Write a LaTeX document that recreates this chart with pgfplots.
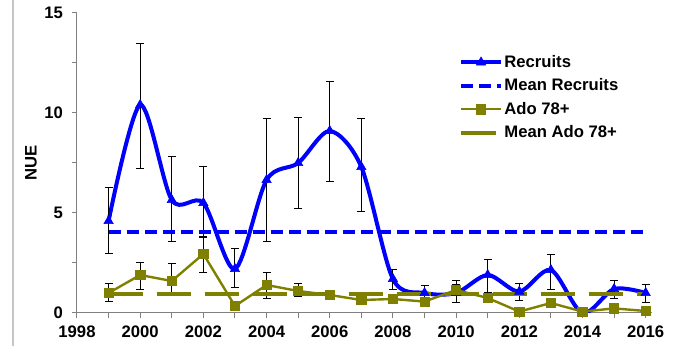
\documentclass[border=0pt]{standalone}
\usepackage{pgfplots}
\usepackage{pgfplotstable}
\pgfplotsset{compat=1.18}
\usepackage{fontspec}
\setmainfont{Liberation Sans}
\definecolor{olivec}{RGB}{128,128,0}
\definecolor{axgray}{RGB}{128,128,128}

\pgfplotstableread{
x y ep em
1999 4.6 1.7 1.6
2000 10.4 3.1 3.15
2001 5.65 2.2 2.05
2002 5.5 1.85 1.7
2003 2.2 1.05 0.9
2004 6.65 3.1 3.05
2005 7.5 2.3 2.25
2006 9.1 2.5 2.5
2007 7.3 2.45 2.2
2008 1.7 0.5 0.5
2009 1.0 0.4 0.3
2010 1.0 0.65 0.45
2011 1.9 0.8 0.85
2012 1.07 0.43 0.42
2013 2.15 0.8 0.95
2014 0.0 0.0 0.0
2015 1.2 0.45 0.45
2016 1.0 0.45 0.45
}\recruits

\pgfplotstableread{
x y ep em
1999 1.0 0.5 0.4
2000 1.9 0.65 0.7
2001 1.6 0.9 0.6
2002 2.95 0.9 0.9
2003 0.35 0.1 0.1
2004 1.4 0.65 0.65
2005 1.1 0.4 0.25
2006 0.9 0.15 0.15
2007 0.65 0.1 0.1
2008 0.7 0.1 0.1
2009 0.57 0.1 0.1
2010 1.15 0.3 0.6
2011 0.75 0.1 0.1
2012 0.07 0.05 0.05
2013 0.5 0.1 0.1
2014 0.07 0.05 0.05
2015 0.23 0.05 0.05
2016 0.1 0.05 0.05
}\ado

\begin{document}
\begin{tikzpicture}
\begin{axis}[
 at={(0,0)}, anchor=south west,
 scale only axis, width=431.25pt, height=225pt,
 xmin=1998, xmax=2016.2, ymin=0, ymax=15,
 axis x line*=bottom, axis y line*=left,
 axis line style={axgray, line width=0.75pt, -},
 xtick={1998,2000,...,2016}, minor xtick={1999,2001,...,2015},
 ytick={0,5,10,15}, minor ytick={2.5,7.5,12.5},
 tick align=outside, major tick length=4pt, minor tick length=4pt,
 tick style={axgray, line width=0.75pt},
 /pgf/number format/assume math mode=true,
 /pgf/number format/1000 sep={},
 ticklabel style={font=\fontsize{12.5}{15}\selectfont\bfseries},
 xticklabel style={yshift=-2pt},
 yticklabel style={xshift=-3pt},
 ylabel={NUE},
 every axis y label/.style={at={(axis description cs:-0.08,0.5)}, anchor=center, rotate=90,
   font=\fontsize{12.5}{15}\selectfont\bfseries},
 legend style={draw=none, fill=none, at={(axis description cs:0.657,0.873)}, anchor=north west,
   font=\fontsize{12.5}{15}\selectfont\bfseries, row sep=5pt, nodes={inner sep=1pt}},
 legend cell align=left,
 legend image code/.code={\draw[mark repeat=2,mark phase=2,#1] plot coordinates {(0pt,0pt)(15pt,0pt)(30pt,0pt)};},
]
\addplot[blue, line width=3pt, smooth, mark=triangle*, mark size=4pt, mark options={solid, line width=0.5pt},
  error bars/.cd, y dir=both, y explicit,
  error bar style={black, line width=0.7pt, solid},
  error mark options={black, rotate=90, mark size=3pt, line width=0.7pt}]
  table[x=x, y=y, y error plus=ep, y error minus=em]{\recruits};
\addlegendentry{Recruits}
\addplot[blue, line width=3pt, dash pattern=on 9pt off 4.5pt] coordinates {(1999,4.05) (2016,4.05)};
\addlegendentry{Mean Recruits}
\addplot[olivec, line width=1.8pt, mark=square*, mark size=3.5pt, mark options={solid, line width=0.5pt},
  error bars/.cd, y dir=both, y explicit,
  error bar style={black, line width=0.7pt, solid},
  error mark options={black, rotate=90, mark size=3pt, line width=0.7pt}]
  table[x=x, y=y, y error plus=ep, y error minus=em]{\ado};
\addlegendentry{Ado 78+}
\addplot[olivec, line width=3pt, dash pattern=on 26pt off 10pt] coordinates {(1999,0.95) (2016,0.95)};
\addlegendentry{Mean Ado 78+}
\end{axis}
\draw[gray!45, line width=1pt] (-48pt,-24.75pt) -- (-48pt,234.75pt);
\pgfresetboundingbox
\useasboundingbox (-57.75pt,-24.75pt) rectangle (454.5pt,234.75pt);
\end{tikzpicture}
\end{document}
